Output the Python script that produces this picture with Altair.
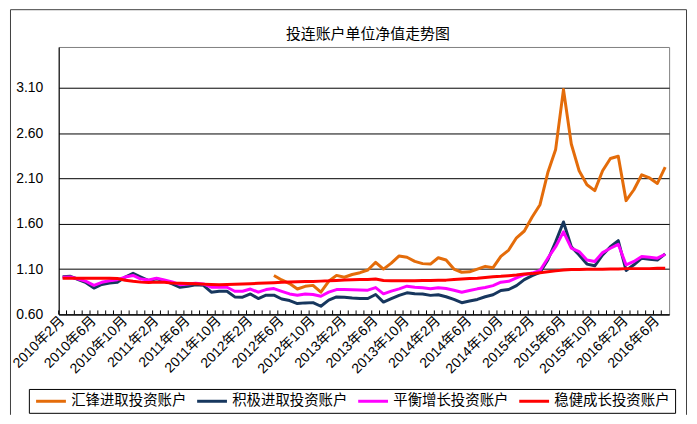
import altair as alt
import pandas as pd

# Categories: monthly, 2010年2月 .. 2016年7月 (78 months)
months = [f"{y}年{m}月" for y in range(2010, 2017) for m in range(1, 13)][1:79]
tick_labels = months[::4]

chart_title = "投连账户单位净值走势图"
names = ["汇锋进取投资账户", "积极进取投资账户", "平衡增长投资账户", "稳健成长投资账户"]
colors = ["#E46C0A", "#17375E", "#FF00FF", "#FF0000"]

huifeng = [None] * 27 + [
    1.03, 0.98, 0.94, 0.88, 0.91, 0.92, 0.845, 0.965, 1.03,
    1.01, 1.04, 1.06, 1.09, 1.175, 1.10, 1.165, 1.245, 1.23, 1.185,
    1.16, 1.155, 1.225, 1.20, 1.10, 1.065, 1.07, 1.10, 1.13, 1.115,
    1.24, 1.31, 1.445, 1.52, 1.675, 1.81, 2.165, 2.42, 3.08, 2.48,
    2.185, 2.03, 1.965, 2.185, 2.32, 2.345, 1.855, 1.975, 2.14, 2.105,
    2.045, 2.225,
]

jiji = [
    1.015, 1.02, 0.985, 0.95, 0.89, 0.93, 0.947, 0.954, 1.012, 1.053,
    1.012, 0.972, 0.994, 0.972, 0.936, 0.899, 0.91, 0.928, 0.921, 0.845,
    0.855, 0.855, 0.793, 0.79, 0.826, 0.775, 0.812, 0.812, 0.77, 0.753,
    0.72, 0.727, 0.73, 0.69, 0.757, 0.793, 0.79, 0.78, 0.775, 0.775,
    0.82, 0.736, 0.773, 0.81, 0.838, 0.827, 0.824, 0.81, 0.816, 0.795,
    0.765, 0.729, 0.747, 0.765, 0.795, 0.816, 0.864, 0.875, 0.918, 0.984,
    1.027, 1.064, 1.20, 1.40, 1.62, 1.347, 1.256, 1.155, 1.136, 1.256,
    1.347, 1.413, 1.085, 1.147, 1.22, 1.209, 1.20, 1.267,
]

pingheng = [
    1.009, 1.012, 0.99, 0.965, 0.921, 0.954, 0.972, 0.983, 1.012, 1.03,
    0.99, 0.98, 1.0, 0.98, 0.958, 0.928, 0.936, 0.943, 0.936, 0.90,
    0.90, 0.90, 0.855, 0.855, 0.88, 0.845, 0.874, 0.885, 0.855, 0.826,
    0.812, 0.826, 0.82, 0.80, 0.845, 0.874, 0.875, 0.872, 0.87, 0.867,
    0.896, 0.827, 0.856, 0.882, 0.911, 0.90, 0.893, 0.882, 0.893, 0.885,
    0.867, 0.845, 0.864, 0.882, 0.896, 0.918, 0.955, 0.965, 1.002, 1.038,
    1.056, 1.085, 1.22, 1.347, 1.51, 1.33, 1.293, 1.20, 1.184, 1.282,
    1.33, 1.373, 1.147, 1.184, 1.238, 1.231, 1.22, 1.264,
]

wenjian = [
    1.0, 1.0, 1.0, 1.0, 0.998, 0.998, 0.998, 0.996, 0.976, 0.965,
    0.956, 0.952, 0.956, 0.955, 0.945, 0.943, 0.94, 0.937, 0.934, 0.93,
    0.927, 0.929, 0.932, 0.936, 0.939, 0.943, 0.946, 0.95, 0.954, 0.957,
    0.96, 0.963, 0.963, 0.967, 0.97, 0.975, 0.98, 0.982, 0.984, 0.986,
    0.99, 0.975, 0.97, 0.97, 0.972, 0.972, 0.974, 0.974, 0.976, 0.978,
    0.984, 0.99, 0.995, 1.0, 1.007, 1.015, 1.02, 1.027, 1.035, 1.045,
    1.05, 1.06, 1.07, 1.08, 1.09, 1.095, 1.095, 1.098, 1.098, 1.098,
    1.10, 1.10, 1.105, 1.105, 1.105, 1.105, 1.11, 1.11,
]

y_ticks = [0.6, 1.1, 1.6, 2.1, 2.6, 3.1]

rows = []
for k, (nm, vals) in enumerate(zip(names, [huifeng, jiji, pingheng, wenjian])):
    for i, v in enumerate(vals):
        if v is not None:
            rows.append({"月份": months[i], "账户": nm, "净值": v, "k": k, "i": i})
df = pd.DataFrame(rows)

W, H = 614, 269
LABEL_FONT = "Liberation Sans, Noto Sans CJK SC"
CJK = "Noto Sans CJK SC"

xscale = alt.Scale(type="band", domain=months, paddingInner=0, paddingOuter=0)
xaxis = alt.Axis(values=tick_labels, labelAngle=-45, ticks=False,
                 domainColor="black", labelFont=LABEL_FONT,
                 labelFontSize=14, labelColor="black", labelPadding=4,
                 labelAlign="right", labelBaseline="middle", grid=False)
yscale = alt.Scale(domain=[0.6, 3.55], nice=False, zero=False)
yaxis = alt.Axis(values=y_ticks, format=".2f", grid=True, gridColor="black",
                 gridWidth=1, ticks=False, domainColor="black",
                 labelFont="Liberation Sans", labelFontSize=14,
                 labelColor="black", labelPadding=16)

lines = alt.Chart(df).mark_line(strokeWidth=3, strokeJoin="round").encode(
    x=alt.X("月份:N", scale=xscale, bandPosition=0.5, axis=xaxis, title=None),
    y=alt.Y("净值:Q", scale=yscale, axis=yaxis, title=None),
    color=alt.Color("账户:N", scale=alt.Scale(domain=names, range=colors),
                    legend=alt.Legend(orient="none", legendX=-30, legendY=344,
                                      direction="horizontal", columns=4, title=None,
                                      symbolType="M-1,0H5", symbolStrokeWidth=3,
                                      symbolSize=100, labelFont=CJK, labelFontSize=14.5,
                                      labelColor="black", labelOffset=23,
                                      strokeColor="black", padding=5,
                                      columnPadding=4, fillColor="white")),
    detail="k:O",
    order="i:Q",
)

ticks = alt.Chart(pd.DataFrame({"月份": months})).mark_rule(color="black", strokeWidth=1).encode(
    x=alt.X("月份:N", scale=xscale, bandPosition=0, axis=xaxis, title=None),
    y=alt.value(H),
    y2=alt.value(H - 4),
)

deco_df = pd.DataFrame({"a": [0]})
frame_left = alt.Chart(deco_df).mark_rule(color="#404040", strokeWidth=1).encode(
    x=alt.value(-48.5), y=alt.value(-37.5), y2=alt.value(370))
frame_top = alt.Chart(deco_df).mark_rule(color="#404040", strokeWidth=1).encode(
    x=alt.value(-48.5), x2=alt.value(631.5), y=alt.value(-37.5))
frame_right = alt.Chart(deco_df).mark_rule(color="#404040", strokeWidth=1).encode(
    x=alt.value(631.5), y=alt.value(-37.5), y2=alt.value(370))
title_text = alt.Chart(deco_df).mark_text(
    font=CJK, fontSize=15, color="black", align="center", baseline="middle"
).encode(x=alt.value(311), y=alt.value(-13), text=alt.value(chart_title))

chart = alt.layer(frame_left, frame_top, frame_right, title_text, lines, ticks).properties(
    width=W, height=H,
    autosize=alt.AutoSizeParams(type="pad"),
    padding={"left": 2, "top": 0, "right": 2, "bottom": 0},
).configure_view(stroke="#808080", strokeWidth=1)

chart.save("out.html", embed_options={"renderer": "svg", "actions": False})
